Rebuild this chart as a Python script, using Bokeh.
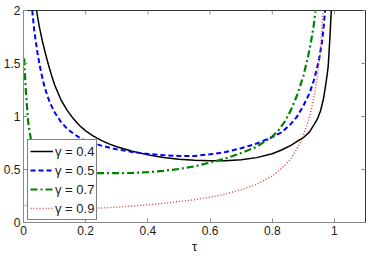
import math
from bokeh.plotting import figure
from bokeh.models import FixedTicker, Range1d, Legend, LegendItem
from bokeh.embed import file_html
from bokeh.resources import INLINE

# ---- data ----
x_g04 = [0.042, 0.05, 0.06, 0.07, 0.08, 0.09, 0.1, 0.12, 0.14, 0.16, 0.18, 0.2, 0.225, 0.25, 0.275, 0.3,
         0.35, 0.4, 0.45, 0.5, 0.55, 0.6, 0.65, 0.7, 0.75, 0.8, 0.83, 0.86, 0.88, 0.9, 0.92, 0.935, 0.945,
         0.955, 0.965, 0.97, 0.975, 0.98, 0.985, 0.99]
y_g04 = [2.0, 1.86, 1.72, 1.6, 1.49, 1.39, 1.3, 1.16, 1.06, 0.98, 0.915, 0.865, 0.815, 0.775, 0.742, 0.715,
         0.672, 0.638, 0.614, 0.597, 0.587, 0.582, 0.583, 0.592, 0.612, 0.648, 0.684, 0.728, 0.765, 0.8, 0.855, 0.925, 0.975,
         1.05, 1.17, 1.26, 1.36, 1.47, 1.72, 2.0]

x_g05 = [0.028, 0.035, 0.045, 0.055, 0.065, 0.075, 0.085, 0.1, 0.12, 0.14, 0.16, 0.18, 0.2, 0.25, 0.3,
         0.35, 0.4, 0.45, 0.5, 0.55, 0.6, 0.65, 0.7, 0.75, 0.8, 0.83, 0.86, 0.88, 0.9, 0.92, 0.935, 0.95,
         0.96, 0.965, 0.97]
y_g05 = [2.0, 1.8, 1.6, 1.44, 1.31, 1.21, 1.13, 1.04, 0.95, 0.885, 0.84, 0.8, 0.772, 0.725, 0.69,
         0.665, 0.647, 0.635, 0.628, 0.628, 0.643, 0.665, 0.7, 0.745, 0.805, 0.85, 0.93, 1.0, 1.1, 1.22, 1.35, 1.53,
         1.7, 1.83, 2.0]

x_g07 = [0.002, 0.005, 0.008, 0.011, 0.015, 0.02, 0.025, 0.031, 0.045, 0.06, 0.08, 0.1, 0.15, 0.2, 0.25, 0.3,
         0.35, 0.4, 0.45, 0.5, 0.55, 0.6, 0.65, 0.7, 0.75, 0.8, 0.82, 0.84, 0.86, 0.88, 0.9, 0.915, 0.925,
         0.933, 0.939]
y_g07 = [1.55, 1.38, 1.22, 1.1, 0.95, 0.85, 0.77, 0.713, 0.62, 0.56, 0.52, 0.495, 0.475, 0.467, 0.465, 0.465,
         0.468, 0.475, 0.487, 0.505, 0.53, 0.565, 0.605, 0.655, 0.715, 0.81, 0.87, 0.95, 1.06, 1.2, 1.38, 1.56, 1.71,
         1.85, 1.99]

x_g09 = [0.0, 0.03, 0.06, 0.1, 0.15, 0.2, 0.25, 0.3, 0.35, 0.4, 0.45, 0.5, 0.55, 0.6, 0.65, 0.7, 0.75, 0.8,
         0.83, 0.86, 0.88, 0.893, 0.91, 0.923, 0.935, 0.944, 0.954, 0.96, 0.963]
y_g09 = [0.165, 0.15, 0.142, 0.137, 0.135, 0.134, 0.137, 0.145, 0.155, 0.167, 0.18, 0.197, 0.215, 0.238, 0.268,
         0.31, 0.36, 0.44, 0.51, 0.6, 0.7, 0.77, 0.9, 1.03, 1.2, 1.35, 1.6, 1.85, 1.99]

series_labels = ["γ = 0.4", "γ = 0.5", "γ = 0.7", "γ = 0.9"]
x_ticks = [0, 0.2, 0.4, 0.6, 0.8, 1]
x_tick_labels = ["0", "0.2", "0.4", "0.6", "0.8", "1"]
y_ticks = [0, 0.5, 1, 1.5, 2]
y_tick_labels = ["0", "0.5", "1", "1.5", "2"]
x_label = "τ"

FONT = "Liberation Sans"
TICK_COLOR = "#8a8a8a"

p = figure(width=366, height=256, x_range=Range1d(0, 1.1), y_range=Range1d(0, 2),
           output_backend="svg", toolbar_location=None,
           min_border_left=2, min_border_right=1, min_border_top=10, min_border_bottom=0)
p.background_fill_color = "white"
p.border_fill_color = "white"
p.outline_line_color = "#333333"
p.outline_line_width = 1
p.xgrid.visible = False
p.ygrid.visible = False

for ax, ticks, labels in ((p.xaxis[0], x_ticks, x_tick_labels), (p.yaxis[0], y_ticks, y_tick_labels)):
    ax.ticker = FixedTicker(ticks=ticks)
    ax.major_label_overrides = {t: l for t, l in zip(ticks, labels)}
    ax.axis_line_color = TICK_COLOR
    ax.major_tick_line_color = TICK_COLOR
    ax.major_tick_in = 4
    ax.major_tick_out = 0
    ax.minor_tick_line_color = None
    ax.major_label_text_font = FONT
    ax.major_label_text_font_size = "12px"
    ax.major_label_text_color = "#1a1a1a"
    ax.major_label_standoff = 3

p.xaxis.axis_label = x_label
p.xaxis.axis_label_text_font = FONT
p.xaxis.axis_label_text_font_size = "13px"
p.xaxis.axis_label_text_font_style = "normal"
p.xaxis.axis_label_text_color = "#1a1a1a"
p.xaxis.axis_label_standoff = 1

# inward ticks on the top and right edges of the box (half of each dash is clipped by the frame)
p.scatter(x=x_ticks, y=[p.y_range.end] * len(x_ticks), marker="dash", angle=math.pi / 2,
          size=8, line_color=TICK_COLOR, line_width=1)
p.scatter(x=[p.x_range.end] * len(y_ticks), y=y_ticks, marker="dash",
          size=8, line_color=TICK_COLOR, line_width=1)

r1 = p.line(x_g04, y_g04, line_color="#000000", line_width=1.5)
r2 = p.line(x_g05, y_g05, line_color="#0000ff", line_width=2, line_dash="5 3")
r3 = p.line(x_g07, y_g07, line_color="#008000", line_width=2.2, line_dash="7 3 2 3")
r4 = p.line(x_g09, y_g09, line_color="#d04848", line_width=1.5, line_dash="1 2")

legend = Legend(items=[LegendItem(label=l, renderers=[r]) for l, r in zip(series_labels, [r1, r2, r3, r4])],
                location=(4, 2))
legend.border_line_color = "#000000"
legend.border_line_width = 1
legend.background_fill_alpha = 1
legend.label_text_font = FONT
legend.label_text_font_size = "13px"
legend.label_text_color = "#1a1a1a"
legend.padding = 2
legend.spacing = 1
legend.margin = 0
legend.glyph_width = 23
legend.glyph_height = 18
legend.label_height = 18
legend.label_standoff = 2
p.add_layout(legend)

open("out.html", "w").write(file_html(p, INLINE))
